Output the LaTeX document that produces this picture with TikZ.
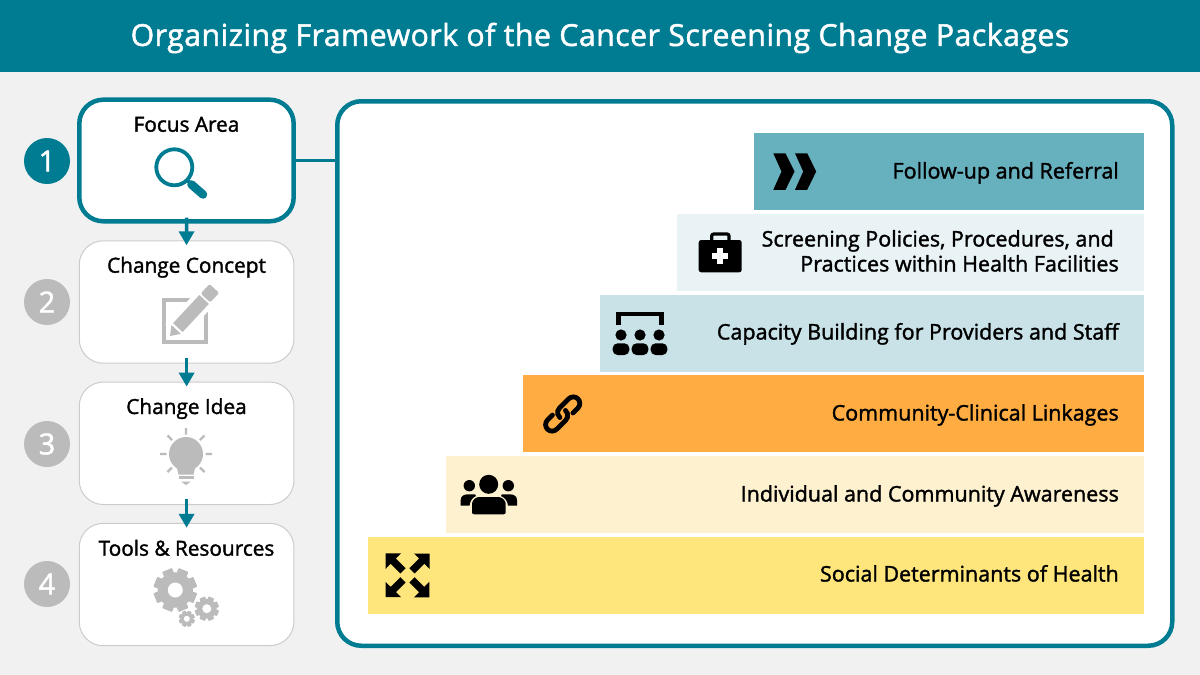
\documentclass[tikz,border=0pt]{standalone}
\usepackage{fontspec}
\setmainfont{Open Sans}
\newfontfamily\semi{Open Sans}[FakeBold=1.6]
\usetikzlibrary{arrows.meta,calc}
\definecolor{teal1}{HTML}{007C92}
\definecolor{bgc}{HTML}{F1F1F1}
\definecolor{gr}{HTML}{BBBBBB}
\definecolor{barA}{HTML}{67B0BE}
\definecolor{barB}{HTML}{E9F3F6}
\definecolor{barC}{HTML}{C9E2E8}
\definecolor{barD}{HTML}{FFAD43}
\definecolor{barE}{HTML}{FDF1D0}
\definecolor{barF}{HTML}{FFE67C}
\tikzset{
 stepon/.style={draw=teal1,line width=4.5pt,fill=white,rounded corners=24pt,minimum width=214.4pt,minimum height=121.6pt,inner sep=0pt},
 stepoff/.style={draw=black!20,line width=1pt,fill=white,rounded corners=24pt,minimum width=214.7pt,minimum height=122.4pt,inner sep=0pt},
 num/.style={circle,minimum size=46pt,inner sep=0pt,text=white,font=\semi\fontsize{29}{29}\selectfont},
 steplabel/.style={anchor=base,inner sep=0pt,font=\semi\fontsize{20.8}{20.8}\selectfont},
 barbox/.style={anchor=north west,inner sep=0pt,minimum height=77pt},
 barlabel/.style={anchor=base east,inner sep=0pt,align=right,font=\semi\fontsize{21.5}{25}\selectfont},
 flow/.style={draw=teal1,line width=3.5pt,-{Triangle[length=14pt,width=15pt]},shorten >=-5pt,shorten <=-6pt},
}
\newcommand{\gearicon}[5]{%
 \foreach \a in {0,45,...,315}{
  \fill[#5,rotate around={\a+22.5:(#1,#2)},rounded corners=0.6pt] ($(#1,#2)+(-#3*0.24,-#3)$) rectangle ($(#1,#2)+(#3*0.24,#3)$);
 }
 \fill[#5] (#1,#2) circle ({#3*0.82*1pt});
 \fill[white] (#1,#2) circle (#4pt);
}
\begin{document}
\begin{tikzpicture}[x=1pt,y=-1pt]
\useasboundingbox (0,0) rectangle (1200,675);
\fill[bgc] (0,0) rectangle (1200,675);
\node[fill=teal1,minimum width=1200pt,minimum height=72pt,inner sep=0pt,anchor=north west] (header) at (0,0) {};
\node[text=white,inner sep=0pt,font=\semi\fontsize{30.3}{30.3}\selectfont] (title) at (600,38) {\addfontfeature{LetterSpace=1.5}Organizing Framework of the Cancer Screening Change Packages};
% frame
\node[draw=teal1,line width=4.5pt,fill=white,rounded corners=24pt,minimum width=835pt,minimum height=544.5pt,inner sep=0pt,anchor=north west] (frame) at (335,99) {};
% steps
\node[stepon] (focus) at (186.5,160.5) {};
\node[stepoff] (concept) at (186.6,302) {};
\node[stepoff] (idea) at (186.6,443.3) {};
\node[stepoff] (tools) at (186.6,584.5) {};
\draw[teal1,line width=3.5pt] (focus.east) -- (frame.west |- focus.east);
\draw[flow] (focus) -- (concept);
\draw[flow] (concept) -- (idea);
\draw[flow] (idea) -- (tools);
\node[steplabel] (l1) at (186.5,131.7) {Focus Area};
\node[steplabel] (l2) at (186.5,272.7) {Change Concept};
\node[steplabel] (l3) at (186.5,414) {Change Idea};
\node[steplabel] (l4) at (186.5,555.7) {Tools \& Resources};
\node[num,fill=teal1] (n1) at (47,161) {1};
\node[num,fill=gr] (n2) at (47,302) {2};
\node[num,fill=gr] (n3) at (47,444) {3};
\node[num,fill=gr] (n4) at (47,584) {4};
% bars
\node[barbox,fill=barA,minimum width=390pt] (b1) at (754,133) {};
\node[barbox,fill=barB,minimum width=467pt] (b2) at (677,214) {};
\node[barbox,fill=barC,minimum width=544pt] (b3) at (600,295) {};
\node[barbox,fill=barD,minimum width=621pt] (b4) at (523,375) {};
\node[barbox,fill=barE,minimum width=698pt] (b5) at (446,456) {};
\node[barbox,fill=barF,minimum width=776pt] (b6) at (368,537) {};
\node[barlabel] (t1) at (1119,178.5) {Follow-up and Referral};
\node[barlabel,anchor=base east] (t2a) at (1114,246.5) {Screening Policies, Procedures, and};
\node[barlabel] (t2b) at (1119,271.5) {Practices within Health Facilities};
\node[barlabel] (t3) at (1119,339.5) {Capacity Building for Providers and Staff};
\node[barlabel] (t4) at (1119,420.5) {Community-Clinical Linkages};
\node[barlabel] (t5) at (1119,501.5) {Individual and Community Awareness};
\node[barlabel] (t6) at (1119,581.5) {Social Determinants of Health};
% magnifier
\draw[teal1,line width=3.8pt] (174.3,167.3) circle (18pt);
\draw[teal1,line width=3.8pt] (187,180) -- (192,185);
\draw[teal1,line width=8.5pt,line cap=round] (191.5,184.5) -- (203,194.5);
% pencil and square
\draw[gr,line width=4pt] (200,300) -- (164,300) -- (164,341.5) -- (206,341.5) -- (206,312);
\begin{scope}[shift={(170,336)},rotate=47]
 \fill[white] (5,-11) rectangle (68,11);
 \fill[gr] (0,0) -- (9,-6.5) -- (9,6.5) -- cycle;
 \fill[gr] (11.5,-6.5) rectangle (50,6.5);
 \fill[gr,rounded corners=1.5pt] (52,-6.5) rectangle (65,6.5);
\end{scope}
% bulb
\fill[gr] (186,454) circle (17pt);
\fill[gr] (176,464) -- (196,464) -- (193.5,474.5) -- (178.5,474.5) -- cycle;
\fill[gr] (178.5,475.5) rectangle (193.5,479);
\fill[gr] (181,481.5) -- (191,481.5) -- (186,485) -- cycle;
\draw[gr,line width=2.2pt] (186,428) -- (186,434.5) (160,454) -- (166.5,454) (205.5,454) -- (212,454)
 (167.5,435.5) -- (172,440) (204.5,435.5) -- (200,440) (167.5,472) -- (172,467.5) (204.5,472) -- (200,467.5);
% gears
\gearicon{175.3}{590}{21.5}{7.5}{gr}
\gearicon{206.8}{608.7}{12}{4.5}{gr}
\gearicon{186.8}{618.8}{8}{3}{gr}
% chevrons
\foreach \d in {0,21.7}{
 \fill[black] (773.3+\d,153.3) -- (785.5+\d,153.3) -- (794.5+\d,171.5) -- (785.5+\d,189.8) -- (773.3+\d,189.8) -- (781.5+\d,171.5) -- cycle;
}
% medical bag
\draw[black,line width=3.2pt,rounded corners=2pt] (711.7,241) -- (711.7,234) -- (729,234) -- (729,241);
\fill[black,rounded corners=2.5pt] (698.7,240) rectangle (741.7,272.3);
\fill[white] (717,248) rectangle (723,264);
\fill[white] (712,253) rectangle (728,259);
% capacity
\draw[black,line width=4.6pt] (618.3,325) -- (618.3,314) -- (661.7,314) -- (661.7,325);
\foreach \x in {621,640,659}{
 \fill[black] (\x,335) circle (5.6pt);
 \fill[black,rounded corners=5pt] (\x-8.4,343.3) rectangle (\x+8.4,355);
}
% link
\begin{scope}[shift={(562.7,414)},rotate=45]
 \draw[black,line width=4.8pt,line cap=round] (8,6.5) -- (15,6.5) arc (90:-90:6.5) -- (2,-6.5) arc (270:175:6.5);
 \draw[black,line width=4.8pt,line cap=round] (-8,-6.5) -- (-15,-6.5) arc (-90:-270:6.5) -- (-2,6.5) arc (90:-5:6.5);
\end{scope}
% people
\fill[black] (488.7,484.3) circle (9.5pt);
\fill[black] (469.3,485.7) circle (5.7pt);
\fill[black] (508.3,485.7) circle (5.7pt);
\fill[black] (460.7,505.7) -- (460.7,500) .. controls (460.7,496) and (464,494.3) .. (468,494.3) -- (475,494.3) -- (476,496) .. controls (472,498) and (470,501) .. (469.5,505.7) -- cycle;
\fill[black] (517,505.7) -- (517,500) .. controls (517,496) and (513.7,494.3) .. (509.7,494.3) -- (502,494.3) -- (501,496) .. controls (505.5,498) and (507.5,501) .. (508,505.7) -- cycle;
\fill[black,rounded corners=2pt] (472,514.3) -- (472,506) .. controls (472,500) and (476,497) .. (481,497) -- (496.5,497) .. controls (501.5,497) and (505.7,500) .. (505.7,506) -- (505.7,514.3) -- cycle;
% expand
\foreach \r in {0,90,180,270}{
 \begin{scope}[shift={(407.5,575.3)},rotate=\r]
  \fill[black] (-21.8,-22) -- (-6.5,-22) -- (-21.8,-6.5) -- cycle;
  \draw[black,line width=7.5pt] (-17,-17) -- (-4.5,-4.5);
 \end{scope}
}
\end{tikzpicture}
\end{document}
